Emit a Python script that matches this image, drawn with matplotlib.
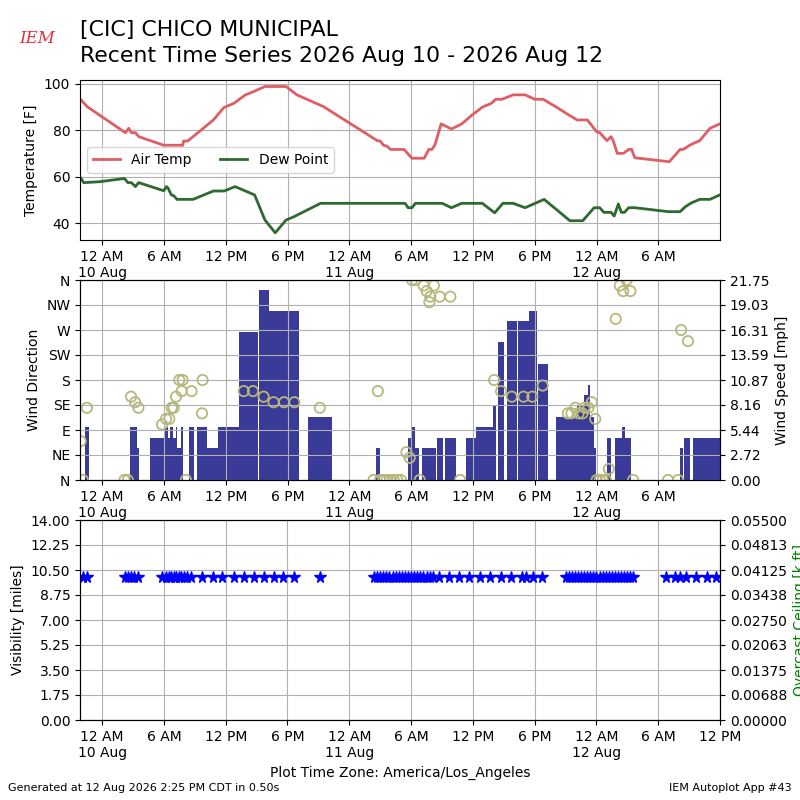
import numpy as np
import matplotlib
matplotlib.use("Agg")
import matplotlib.pyplot as plt
from matplotlib.ticker import FuncFormatter, FixedLocator

# hours since 10 Aug 2026 00:00 (America/Los_Angeles)
temp_hours = [-2.04, -1.45, 2.26, 2.58, 2.84, 3.23, 3.55, 5.98, 7.82, 7.90, 8.30, 10.80,
              11.80, 12.80, 13.90, 14.70, 15.80, 17.85, 18.90, 21.50, 26.70, 27.00, 27.30,
              27.60, 28.00, 29.30, 30.07, 31.26, 31.70, 32.00, 32.30, 32.90, 33.90, 34.90,
              35.90, 36.90, 37.80, 38.20, 38.80, 39.90, 41.05, 42.00, 42.80, 44.10, 45.30,
              45.70, 46.10, 47.10, 48.00, 48.30, 49.00, 49.40, 49.60, 50.00, 50.60, 51.10,
              51.40, 51.70, 55.05, 56.10, 56.40, 57.06, 58.00, 59.00, 59.95]
air_temp = [93.1, 90.2, 79.0, 80.9, 79.0, 79.0, 77.3, 73.6, 73.6, 75.4, 75.4, 84.5,
            89.8, 91.7, 95.3, 96.7, 98.9, 98.9, 95.3, 90.2, 75.6, 75.4, 73.6,
            73.3, 71.8, 71.8, 68.0, 68.0, 71.8, 71.8, 73.7, 82.8, 80.6, 82.8,
            86.6, 90.0, 91.7, 93.4, 93.4, 95.3, 95.3, 93.4, 93.4, 90.0, 86.6,
            85.6, 84.5, 84.5, 79.4, 79.0, 75.6, 77.3, 75.6, 70.1, 70.1, 71.8,
            71.8, 68.2, 66.5, 71.8, 71.8, 73.7, 75.6, 80.9, 82.8]

dew_hours = [-2.04, -1.80, -0.23, 2.16, 2.50, 2.84, 3.23, 3.55, 5.98, 6.24, 6.40, 6.72,
             6.94, 7.27, 8.83, 10.80, 11.85, 12.90, 14.80, 15.80, 16.80, 17.85, 18.60,
             21.20, 29.40, 29.70, 30.07, 30.40, 33.00, 33.90, 34.90, 36.90, 38.10, 38.90,
             39.90, 41.05, 42.90, 45.40, 46.65, 47.75, 48.30, 48.70, 49.40, 49.70, 50.10,
             50.40, 50.70, 51.10, 51.70, 54.96, 56.10, 56.60, 57.20, 58.00, 59.00, 59.95]
dew_point = [59.3, 57.5, 57.9, 59.3, 57.5, 57.5, 55.8, 57.5, 54.0, 55.8, 55.1, 52.2,
             51.9, 50.3, 50.3, 53.9, 53.9, 55.8, 52.2, 41.4, 35.9, 41.4, 42.8,
             48.6, 48.6, 46.7, 46.7, 48.6, 48.6, 46.7, 48.6, 48.6, 44.5, 48.6,
             48.6, 46.7, 50.3, 41.1, 41.1, 46.7, 46.7, 44.7, 44.7, 43.1, 48.3,
             44.7, 44.7, 46.7, 46.7, 45.0, 45.0, 47.1, 48.8, 50.3, 50.3, 52.2]

# wind speed steps: speed [kt] holds from each start hour to the next one
wind_start = [-2.20, -1.69, -1.30, 2.71, 3.36, 3.62, 4.67, 6.03, 6.35, 6.60, 6.92, 7.18,
              7.31, 7.63, 7.89, 8.47, 8.92, 9.24, 10.20, 11.29, 13.32, 15.09, 15.22, 16.15,
              19.14, 19.94, 22.35, 26.60, 26.98, 29.69, 30.01, 30.34, 30.72, 31.05, 32.40,
              32.50, 33.08, 33.27, 34.34, 35.30, 36.27, 37.92, 38.24, 38.40, 39.05, 39.27,
              40.24, 40.34, 41.40, 42.18, 42.27, 43.24, 44.02, 46.08, 46.73, 47.15, 47.38,
              47.70, 47.92, 49.05, 49.37, 49.76, 50.41, 50.79, 51.37, 56.12, 56.38, 56.50,
              57.05, 57.38]
wind_end = 60.0
wind_kt = [0, 5, 0, 5, 3, 0, 4, 5, 4, 5, 4, 5,
           3, 5, 0, 5, 0, 5, 3, 5, 14, 0, 18, 16,
           0, 6, 0, 3, 0, 4, 5, 3, 0, 3, 0,
           4, 0, 4, 0, 4, 5, 7, 0, 13, 0, 15,
           0, 15, 16, 0, 11, 0, 6, 7, 8, 9, 6,
           3, 0, 4, 0, 4, 5, 4, 0, 3, 0, 4,
           0, 4]

dir_hours = [-2.09, -1.87, -1.48, 2.17, 2.49, 2.81, 3.20, 3.52, 5.81, 6.20, 6.52, 6.75,
             6.94, 7.17, 7.49, 7.72, 7.81, 8.13, 8.68, 9.69, 9.75, 13.74, 14.64, 15.67,
             16.64, 17.66, 18.66, 21.13, 26.34, 26.76, 26.98, 27.30, 27.60, 27.95, 28.30,
             28.65, 29.00, 29.53, 29.85, 30.08, 30.40, 30.82, 31.20, 31.50, 31.76, 31.86,
             32.20, 32.76, 33.80, 34.75, 38.05, 38.72, 39.76, 40.90, 41.76, 42.76, 45.20,
             45.55, 45.93, 46.25, 46.63, 46.83, 47.20, 47.53, 47.86, 48.00, 48.30, 48.60,
             48.90, 49.18, 49.85, 50.25, 50.57, 50.90, 51.28, 51.54, 54.93, 55.90, 56.20,
             56.86]
wind_dir = [70, 0, 130, 0, 0, 150, 140, 130, 100, 110, 110, 130,
            130, 150, 180, 160, 180, 0, 160, 120, 180, 160, 160, 150,
            140, 140, 140, 130, 0, 160, 0, 0, 0, 0, 0,
            0, 0, 50, 40, 360, 360, 0, 350, 340, 320, 330,
            350, 330, 330, 0, 180, 160, 150, 150, 150, 170, 120,
            120, 130, 120, 120, 130, 130, 140, 110, 0, 0, 0,
            0, 20, 290, 350, 340, 360, 340, 0, 0, 0, 270,
            250]

vis_hours = [-1.90, -1.45, 2.20, 2.50, 2.80, 3.10, 3.50, 5.80, 6.20, 6.45, 6.70, 6.95,
             7.20, 7.45, 7.70, 7.95, 8.20, 8.65, 9.70, 10.75, 11.65, 12.80, 13.75, 14.70,
             15.70, 16.65, 17.60, 18.65, 21.17, 26.40, 26.70, 27.00, 27.30, 27.60, 27.90,
             28.20, 28.50, 28.80, 29.10, 29.40, 29.70, 30.00, 30.30, 30.60, 30.90, 31.20,
             31.50, 31.80, 32.10, 32.70, 33.70, 34.70, 35.60, 36.70, 37.70, 38.70, 39.70,
             40.80, 41.20, 41.80, 42.70, 45.00, 45.30, 45.60, 45.90, 46.20, 46.50, 46.80,
             47.10, 47.40, 47.70, 48.00, 48.30, 48.60, 48.90, 49.20, 49.50, 49.80, 50.10,
             50.40, 50.70, 51.00, 51.30, 51.60, 54.80, 55.60, 56.10, 56.70, 57.70, 58.70,
             59.60]
visibility = [10.0] * len(vis_hours)

dir_labels = ["N", "NE", "E", "SE", "S", "SW", "W", "NW", "N"]


def time_label(h, pos=None):
    h = int(round(h))
    hod = h % 24
    if hod == 0:
        return "12 AM\n%d Aug" % (10 + h // 24)
    if hod == 12:
        return "12 PM"
    return "%d %s" % (hod % 12, "AM" if hod < 12 else "PM")


def setup_time(ax, right):
    ax.set_xlim(-2.15, right)
    ax.xaxis.set_major_locator(FixedLocator(np.arange(0, 61, 6)))
    ax.xaxis.set_major_formatter(FuncFormatter(time_label))
    ax.grid(True)


fig = plt.figure(figsize=(8, 8), dpi=100)

# temperature
ax1 = fig.add_axes([0.1, 0.7, 0.8, 0.2])
ax1.plot(temp_hours, air_temp, color="#de5e66", lw=2, label="Air Temp")
ax1.plot(dew_hours, dew_point, color="#2e6a30", lw=2, label="Dew Point")
ax1.set_ylim(32.8, 101.7)
ax1.set_yticks([40, 60, 80, 100])
ax1.set_ylabel("Temperature [F]")
setup_time(ax1, 59.97)
ax1.legend(loc="center left", ncol=2)

# wind
ax2 = fig.add_axes([0.1, 0.4, 0.8, 0.25])
ax2b = ax2.twinx()
starts = np.array(wind_start)
widths = np.diff(np.append(starts, wind_end))
mph = np.array(wind_kt) * 1.15078
ax2b.bar(starts, mph, width=widths, align="edge", color="#3a3a98", lw=0)
smax = mph.max() * 1.05
ax2b.set_ylim(0, smax)
ax2b.set_yticks(np.linspace(0, smax, 9))
ax2b.yaxis.set_major_formatter(FuncFormatter(lambda v, p: "%.2f" % v))
ax2b.set_ylabel("Wind Speed [mph]")
ax2.set_zorder(ax2b.get_zorder() + 1)
ax2.patch.set_visible(False)
ax2.scatter(dir_hours, wind_dir, s=55, facecolors="none", edgecolors="#b8b87a", lw=1.3)
ax2.set_ylim(0, 360)
ax2.set_yticks(np.arange(0, 361, 45))
ax2.set_yticklabels(dir_labels)
ax2.set_ylabel("Wind Direction")
setup_time(ax2, 59.97)
ax2b.set_xlim(ax2.get_xlim())

# visibility
ax3 = fig.add_axes([0.1, 0.1, 0.8, 0.25])
ax3.plot(vis_hours, visibility, "*", color="b", ms=8.5, ls="none")
ax3.set_ylim(0, 14)
ax3.set_yticks(np.linspace(0, 14, 9))
ax3.yaxis.set_major_formatter(FuncFormatter(lambda v, p: "%.2f" % v))
ax3.set_ylabel("Visibility [miles]")
setup_time(ax3, 60.0)
ax3.set_xlabel("Plot Time Zone: America/Los_Angeles")
ax3b = ax3.twinx()
ax3b.set_ylim(0, 0.055)
ax3b.set_yticks(np.linspace(0, 0.055, 9))
ax3b.yaxis.set_major_formatter(FuncFormatter(lambda v, p: "%.5f" % v))
ax3b.set_ylabel("Overcast Ceiling [k ft]", color="g")

fig.text(0.1, 0.962, "[CIC] CHICO MUNICIPAL", fontsize=15.8, va="center")
fig.text(0.1, 0.93, "Recent Time Series 2026 Aug 10 - 2026 Aug 12", fontsize=15.8, va="center")
fig.text(0.046, 0.952, "IEM", fontsize=12, color="#e0303a", style="italic",
         family="serif", ha="center", va="center")
fig.text(0.01, 0.015, "Generated at 12 Aug 2026 2:25 PM CDT in 0.50s", fontsize=8, va="center")
fig.text(0.99, 0.015, "IEM Autoplot App #43", fontsize=8, ha="right", va="center")

fig.savefig("out.png")
